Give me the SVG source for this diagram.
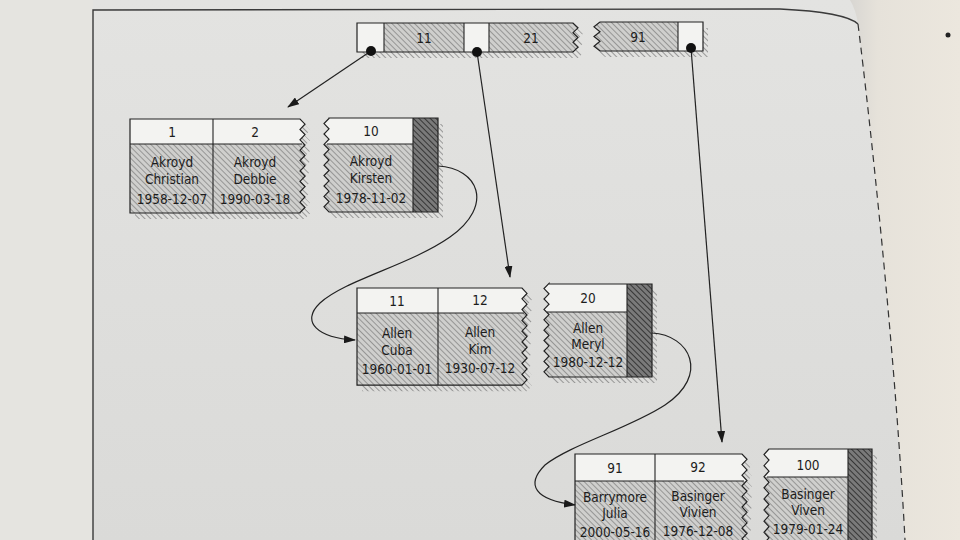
<svg xmlns="http://www.w3.org/2000/svg" xmlns:xlink="http://www.w3.org/1999/xlink" width="960" height="540" viewBox="0 0 960 540">
<style>
.txt{font-family:'DejaVu Sans Condensed','DejaVu Sans','Liberation Sans',sans-serif;font-stretch:condensed;font-size:13.5px;fill:#1c1c1c;text-anchor:middle}
.ol{fill:none;stroke:#222;stroke-width:1.2;stroke-linejoin:miter}
.ln{stroke:#222;stroke-width:1.1}
.sh{fill:url(#hs);stroke:none}
.wh{fill:#f3f3f1}
.hb{fill:url(#hl)}
.dk{fill:url(#hd)}
.con{fill:none;stroke:#222;stroke-width:1.2}
</style>
<defs>
<linearGradient id="bg" x1="0" y1="0" x2="0" y2="1"><stop offset="0" stop-color="#e3e3e1"/><stop offset="1" stop-color="#dadad8"/></linearGradient>
<linearGradient id="curl" x1="0" y1="0" x2="1" y2="0"><stop offset="0" stop-color="#d8d6d2"/><stop offset="0.25" stop-color="#e6e2da"/><stop offset="1" stop-color="#ece7de"/></linearGradient>
<pattern id="hl" width="4" height="4" patternUnits="userSpaceOnUse" patternTransform="rotate(-45)"><rect width="4" height="4" fill="#cfcfcd"/><line x1="0" y1="0" x2="0" y2="4" stroke="#878787" stroke-width="1.6"/></pattern>
<pattern id="hd" width="4" height="4" patternUnits="userSpaceOnUse" patternTransform="rotate(-45)"><rect width="4" height="4" fill="#7a7a7a"/><line x1="0" y1="0" x2="0" y2="4" stroke="#363636" stroke-width="2"/></pattern>
<pattern id="hs" width="4" height="4" patternUnits="userSpaceOnUse" patternTransform="rotate(-45)"><line x1="0" y1="0" x2="0" y2="4" stroke="#858585" stroke-width="1.6"/></pattern>
<marker id="ah" viewBox="0 0 12 8" refX="11" refY="4" markerWidth="12" markerHeight="8" markerUnits="userSpaceOnUse" orient="auto"><path d="M0,0 L12,4 L0,8 Z" fill="#1a1a1a"/></marker>
<path id="r1" d="M357,23 H573 l5,4.83 l-5,4.83 l5,4.83 l-5,4.83 l5,4.83 l-5,4.83 H357 Z"/>
<path id="r2" d="M600,22 H703 V51 H600 l-6,-4.83 l6,-4.83 l-6,-4.83 l6,-4.83 l-6,-4.83 l6,-4.83 Z"/>
<path id="p1" d="M130,119 H300 l5,5.2 l-5,5.2 l5,5.2 l-5,5.2 l5,5.2 l-5,5.2 l5,5.2 l-5,5.2 l5,5.2 l-5,5.2 l5,5.2 l-5,5.2 l5,5.2 l-5,5.2 l5,5.2 l-5,5.2 l5,5.2 l-5,5.2 L300,213 H130 Z"/>
<path id="p2" d="M329,118 H438 V212 H329 l-5,-5.2 l5,-5.2 l-5,-5.2 l5,-5.2 l-5,-5.2 l5,-5.2 l-5,-5.2 l5,-5.2 l-5,-5.2 l5,-5.2 l-5,-5.2 l5,-5.2 l-5,-5.2 l5,-5.2 l-5,-5.2 l5,-5.2 l-5,-5.2 l5,-5.2 Z"/>
<path id="p3" d="M357,288 H522 l5,5.4 l-5,5.4 l5,5.4 l-5,5.4 l5,5.4 l-5,5.4 l5,5.4 l-5,5.4 l5,5.4 l-5,5.4 l5,5.4 l-5,5.4 l5,5.4 l-5,5.4 l5,5.4 l-5,5.4 l5,5.4 l-5,5.4 H357 Z"/>
<path id="p4" d="M549,284 H652 V377 H549 l-5,-5.2 l5,-5.2 l-5,-5.2 l5,-5.2 l-5,-5.2 l5,-5.2 l-5,-5.2 l5,-5.2 l-5,-5.2 l5,-5.2 l-5,-5.2 l5,-5.2 l-5,-5.2 l5,-5.2 l-5,-5.2 l5,-5.2 l-5,-5.2 l5,-5.2 Z"/>
<path id="p5" d="M575,454 H742 l5,5.3 l-5,5.3 l5,5.3 l-5,5.3 l5,5.3 l-5,5.3 l5,5.3 l-5,5.3 l5,5.3 l-5,5.3 l5,5.3 l-5,5.3 l5,5.3 l-5,5.3 l5,5.3 l-5,5.3 l5,5.3 l-5,5.3 l5,5.3 l-5,5.3 H575 Z"/>
<path id="p6" d="M769,449 H872 V560 H769 l-5,-5.55 l5,-5.55 l-5,-5.55 l5,-5.55 l-5,-5.55 l5,-5.55 l-5,-5.55 l5,-5.55 l-5,-5.55 l5,-5.55 l-5,-5.55 l5,-5.55 l-5,-5.55 l5,-5.55 l-5,-5.55 l5,-5.55 l-5,-5.55 l5,-5.55 l-5,-5.55 l5,-5.55 Z"/>
<clipPath id="cr1"><use xlink:href="#r1"/></clipPath>
<clipPath id="cr2"><use xlink:href="#r2"/></clipPath>
<clipPath id="c1"><use xlink:href="#p1"/></clipPath>
<clipPath id="c2"><use xlink:href="#p2"/></clipPath>
<clipPath id="c3"><use xlink:href="#p3"/></clipPath>
<clipPath id="c4"><use xlink:href="#p4"/></clipPath>
<clipPath id="c5"><use xlink:href="#p5"/></clipPath>
<clipPath id="c6"><use xlink:href="#p6"/></clipPath>
</defs>

<g id="page">
<rect width="960" height="540" fill="url(#bg)"/>
<rect width="93" height="540" fill="#e5e4e0"/>
<path d="M850,0 H960 V540 H905 C895,350 870,120 858,24 Q856,10 850,0 Z" fill="url(#curl)"/>
<path d="M93,540 V10 L780,9 Q845,12 858,24" fill="none" stroke="#3a3a3a" stroke-width="1.4"/>
<path d="M858,24 C870,120 895,350 905,540" fill="none" stroke="#333" stroke-width="1.2" stroke-dasharray="7,5"/>
<circle cx="948" cy="35" r="2.5" fill="#222"/>
</g>

<g id="root-node">
<use xlink:href="#r1" class="sh" transform="translate(5,6)"/>
<use xlink:href="#r2" class="sh" transform="translate(5,6)"/>
<g clip-path="url(#cr1)">
<rect x="350" y="20" width="240" height="40" class="hb"/>
<rect x="357" y="23" width="27" height="29" class="wh"/>
<rect x="464" y="23" width="25" height="29" class="wh"/>
</g>
<g clip-path="url(#cr2)">
<rect x="585" y="18" width="125" height="40" class="hb"/>
<rect x="678" y="22" width="25" height="29" class="wh"/>
</g>
<line x1="384" y1="23" x2="384" y2="52" class="ln"/>
<line x1="464" y1="23" x2="464" y2="52" class="ln"/>
<line x1="489" y1="23" x2="489" y2="52" class="ln"/>
<line x1="678" y1="22" x2="678" y2="51" class="ln"/>
<use xlink:href="#r1" class="ol"/>
<use xlink:href="#r2" class="ol"/>
<text x="424" y="43" class="txt">11</text>
<text x="531" y="43" class="txt">21</text>
<text x="638" y="42" class="txt">91</text>
</g>

<g id="leaf-akroyd">
<use xlink:href="#p1" class="sh" transform="translate(5,6)"/>
<use xlink:href="#p2" class="sh" transform="translate(5,6)"/>
<g clip-path="url(#c1)">
<rect x="125" y="115" width="190" height="29" class="wh"/>
<rect x="125" y="144" width="190" height="75" class="hb"/>
</g>
<g clip-path="url(#c2)">
<rect x="318" y="114" width="125" height="30" class="wh"/>
<rect x="318" y="144" width="125" height="75" class="hb"/>
<rect x="413" y="114" width="30" height="105" class="dk"/>
</g>
<line x1="130" y1="144" x2="302" y2="144" class="ln"/>
<line x1="213" y1="119" x2="213" y2="213" class="ln"/>
<line x1="327" y1="144" x2="413" y2="144" class="ln"/>
<line x1="413" y1="118" x2="413" y2="212" class="ln"/>
<use xlink:href="#p1" class="ol"/>
<use xlink:href="#p2" class="ol"/>
<text x="172" y="137" class="txt">1</text>
<text x="255" y="137" class="txt">2</text>
<text x="371" y="136" class="txt">10</text>
<text x="172" y="167" class="txt">Akroyd</text>
<text x="172" y="184" class="txt">Christian</text>
<text x="172" y="204" class="txt">1958-12-07</text>
<text x="255" y="167" class="txt">Akroyd</text>
<text x="255" y="184" class="txt">Debbie</text>
<text x="255" y="204" class="txt">1990-03-18</text>
<text x="371" y="166" class="txt">Akroyd</text>
<text x="371" y="183" class="txt">Kirsten</text>
<text x="371" y="203" class="txt">1978-11-02</text>
</g>

<g id="leaf-allen">
<use xlink:href="#p3" class="sh" transform="translate(5,6)"/>
<use xlink:href="#p4" class="sh" transform="translate(5,6)"/>
<g clip-path="url(#c3)">
<rect x="350" y="284" width="185" height="29" class="wh"/>
<rect x="350" y="313" width="185" height="80" class="hb"/>
</g>
<g clip-path="url(#c4)">
<rect x="538" y="280" width="120" height="32" class="wh"/>
<rect x="538" y="312" width="120" height="70" class="hb"/>
<rect x="627" y="280" width="30" height="100" class="dk"/>
</g>
<line x1="357" y1="313" x2="524" y2="313" class="ln"/>
<line x1="438" y1="288" x2="438" y2="385" class="ln"/>
<line x1="547" y1="312" x2="627" y2="312" class="ln"/>
<line x1="627" y1="284" x2="627" y2="377" class="ln"/>
<use xlink:href="#p3" class="ol"/>
<use xlink:href="#p4" class="ol"/>
<text x="397" y="306" class="txt">11</text>
<text x="480" y="305" class="txt">12</text>
<text x="588" y="303" class="txt">20</text>
<text x="397" y="338" class="txt">Allen</text>
<text x="397" y="355" class="txt">Cuba</text>
<text x="397" y="374" class="txt">1960-01-01</text>
<text x="480" y="337" class="txt">Allen</text>
<text x="480" y="354" class="txt">Kim</text>
<text x="480" y="373" class="txt">1930-07-12</text>
<text x="588" y="333" class="txt">Allen</text>
<text x="588" y="349" class="txt">Meryl</text>
<text x="588" y="367" class="txt">1980-12-12</text>
</g>

<g id="leaf-barrymore">
<use xlink:href="#p5" class="sh" transform="translate(5,6)"/>
<use xlink:href="#p6" class="sh" transform="translate(5,6)"/>
<g clip-path="url(#c5)">
<rect x="568" y="450" width="185" height="31" class="wh"/>
<rect x="568" y="481" width="185" height="85" class="hb"/>
</g>
<g clip-path="url(#c6)">
<rect x="758" y="445" width="120" height="32" class="wh"/>
<rect x="758" y="477" width="120" height="90" class="hb"/>
<rect x="848" y="445" width="30" height="120" class="dk"/>
</g>
<line x1="575" y1="481" x2="744" y2="481" class="ln"/>
<line x1="655" y1="454" x2="655" y2="560" class="ln"/>
<line x1="767" y1="477" x2="848" y2="477" class="ln"/>
<line x1="848" y1="449" x2="848" y2="560" class="ln"/>
<use xlink:href="#p5" class="ol"/>
<use xlink:href="#p6" class="ol"/>
<text x="615" y="473" class="txt">91</text>
<text x="698" y="472" class="txt">92</text>
<text x="808" y="470" class="txt">100</text>
<text x="615" y="502" class="txt">Barrymore</text>
<text x="615" y="518" class="txt">Julia</text>
<text x="615" y="537" class="txt">2000-05-16</text>
<text x="698" y="501" class="txt">Basinger</text>
<text x="698" y="517" class="txt">Vivien</text>
<text x="698" y="536" class="txt">1976-12-08</text>
<text x="808" y="499" class="txt">Basinger</text>
<text x="808" y="515" class="txt">Viven</text>
<text x="808" y="534" class="txt">1979-01-24</text>
</g>

<g id="connectors">
<line x1="371" y1="51" x2="288" y2="107" class="con" marker-end="url(#ah)"/>
<line x1="477" y1="52" x2="510" y2="277" class="con" marker-end="url(#ah)"/>
<line x1="691" y1="48" x2="722" y2="442" class="con" marker-end="url(#ah)"/>
<path d="M438,166 C478,168 495,205 450,237 C410,265 345,280 320,303 C300,322 318,338 355,340" class="con" marker-end="url(#ah)"/>
<path d="M652,333 C690,335 710,375 665,405 C630,428 570,445 545,465 C525,485 535,500 575,505" class="con" marker-end="url(#ah)"/>
<circle cx="371" cy="51" r="5" fill="#111"/>
<circle cx="477" cy="52" r="5" fill="#111"/>
<circle cx="691" cy="48" r="5" fill="#111"/>
</g>
</svg>
